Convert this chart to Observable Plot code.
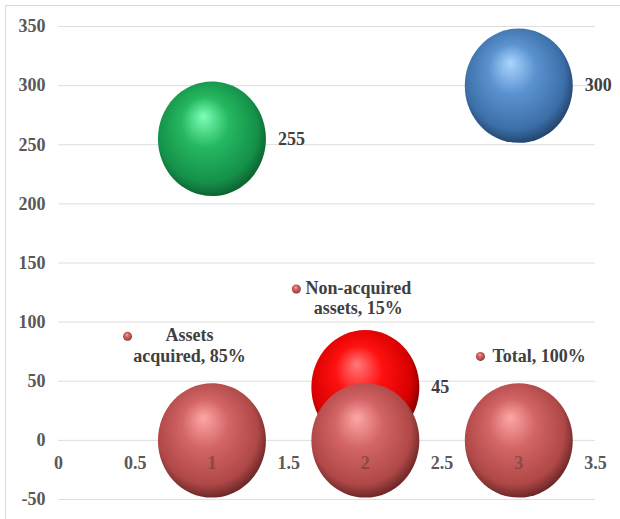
<!DOCTYPE html>
<html>
<head>
<meta charset="utf-8">
<script src="https://cdn.jsdelivr.net/npm/d3@7"></script>
<script src="https://cdn.jsdelivr.net/npm/@observablehq/plot@0.6"></script>
<style>
  html, body { margin: 0; padding: 0; background: #fff; }
  #wrap { position: relative; width: 620px; height: 519px; overflow: hidden; }
  #border { position: absolute; left: 5px; top: 5px; width: 700px; height: 700px;
            border-left: 1px solid #d9d9d9; border-top: 1px solid #d9d9d9; pointer-events: none; }
  svg, svg text { font-family: "Liberation Serif", "Times New Roman", serif !important; font-weight: bold; }
</style>
</head>
<body>
<div id="wrap"><div id="border"></div></div>
<script>
// Bubbles
const bubbleX = [1, 3, 2, 1, 2, 3];
const bubbleY = [255, 300, 45, 0, 0, 0];
const bubbleFill = ["green", "blue", "red", "brown", "brown", "brown"];
// Data labels
const valueX = [1, 3, 2];
const valueY = [255, 300, 45];
const valueText = ["255", "300", "45"];
// Legend-like markers inside the plot
const legendX = [0.45, 1.55, 2.75];
const legendY = [88, 128, 71];
const legendText = ["Assets\nacquired, 85%", "Non-acquired\nassets, 15%", "Total, 100%"];
// Axis ticks
const xTicks = [0, 0.5, 1, 1.5, 2, 2.5, 3, 3.5];
const yTicks = [-50, 0, 50, 100, 150, 200, 250, 300, 350];

const bubbles = bubbleX.map((x, i) => ({x, y: bubbleY[i], fill: `url(#g-${bubbleFill[i]})`}));
const values = valueX.map((x, i) => ({x, y: valueY[i], t: valueText[i]}));
const legend = legendX.map((x, i) => ({x, y: legendY[i], t: legendText[i]}));

// slightly tall ellipse symbol (reference is stretched vertically)
const ellipse = {
  draw(ctx, size) {
    const r = Math.sqrt(size / Math.PI), rx = r, ry = r * 1.06, k = 0.5523;
    ctx.moveTo(rx, 0);
    ctx.bezierCurveTo(rx, ry * k, rx * k, ry, 0, ry);
    ctx.bezierCurveTo(-rx * k, ry, -rx, ry * k, -rx, 0);
    ctx.bezierCurveTo(-rx, -ry * k, -rx * k, -ry, 0, -ry);
    ctx.bezierCurveTo(rx * k, -ry, rx, -ry * k, rx, 0);
    ctx.closePath();
  }
};

const font = "Liberation Serif";
const textColor = "#595959";
const fs = 18;

const chart = Plot.plot({
  width: 620,
  height: 519,
  marginTop: 26,
  marginBottom: 20,
  marginLeft: 58,
  marginRight: 25,
  style: {fontFamily: font, fontWeight: "bold", background: "transparent"},
  x: {domain: [0, 3.5], axis: null},
  y: {domain: [-50, 350], axis: null},
  marks: [
    Plot.ruleY(yTicks, {stroke: "#dedede", strokeWidth: 1}),
    Plot.axisY(yTicks, {tickSize: 0, tickPadding: 13, fontSize: fs, fill: textColor, textAnchor: "end", label: null, tickFormat: d => String(d), fontFamily: font}),
    Plot.text(xTicks, {x: d => d, y: 0, dy: 23, text: d => String(d), fontSize: fs, fill: textColor, fontFamily: font}),
    Plot.dot(bubbles, {x: "x", y: "y", r: 54, symbol: ellipse, fill: "fill", stroke: "none"}),
    Plot.text(xTicks.filter(d => d === 1 || d === 2 || d === 3), {x: d => d, y: 0, dy: 23, text: d => String(d), fontSize: fs, fill: "#5a3a3a", fillOpacity: 0.55, fontFamily: font}),
    Plot.text(values, {x: "x", y: "y", text: "t", dx: 66, textAnchor: "start", fontSize: fs, fill: "#404040", fontFamily: font}),
    Plot.dot(legend, {x: "x", y: "y", r: 4.5, fill: () => "url(#g-brown)", stroke: "none"}),
    Plot.text(legend.slice(0, 2), {x: "x", y: "y", text: "t", dx: 62, dy: -10, lineAnchor: "top", lineHeight: 1.15, textAnchor: "middle", fontSize: fs, fill: "#404040", fontFamily: font}),
    Plot.text(legend.slice(2), {x: "x", y: "y", text: "t", dx: 12, textAnchor: "start", fontSize: fs, fill: "#404040", fontFamily: font})
  ]
});

// radial gradients for the 3D sphere look
const palettes = {
  green: ["#7dffb8", "#26b860", "#14904a", "#0a5a29"],
  blue:  ["#a9d6ff", "#5a92d0", "#3c6fa8", "#1d3c63"],
  red:   ["#ff7a7a", "#ff1010", "#d80000", "#700000"],
  brown: ["#ffa6a6", "#d26464", "#b04848", "#5e2020"]
};
const svg = d3.select(chart);
const defs = svg.insert("defs", ":first-child");
for (const [name, c] of Object.entries(palettes)) {
  const g = defs.append("radialGradient")
    .attr("id", `g-${name}`)
    .attr("cx", "0.47").attr("cy", "0.45").attr("r", "0.58")
    .attr("fx", "0.42").attr("fy", "0.3");
  g.append("stop").attr("offset", "0").attr("stop-color", c[0]);
  g.append("stop").attr("offset", "0.38").attr("stop-color", c[1]);
  g.append("stop").attr("offset", "0.8").attr("stop-color", c[2]);
  g.append("stop").attr("offset", "1").attr("stop-color", c[3]);
}
svg.style("position", "absolute").style("left", "0").style("top", "0");
document.getElementById("wrap").appendChild(chart);
</script>
</body>
</html>
